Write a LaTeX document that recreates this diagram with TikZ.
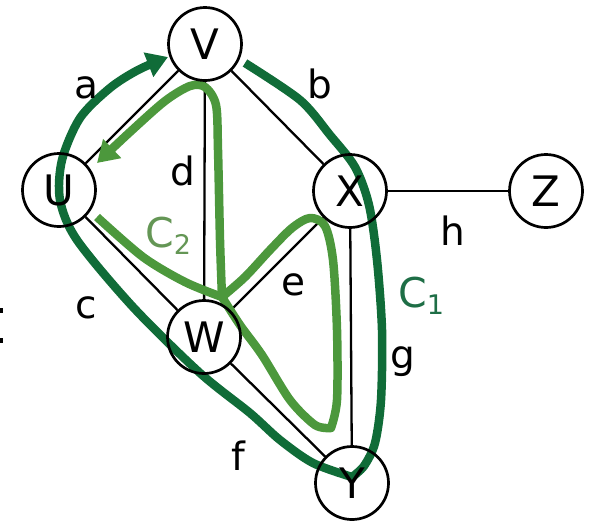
\documentclass[tikz,border=0pt]{standalone}
\usepackage{fontspec}
\setmainfont{DejaVu Sans}
\usetikzlibrary{arrows.meta}
\pgfdeclarelayer{background}
\pgfsetlayers{background,main}
\definecolor{darkg}{RGB}{16,108,56}
\definecolor{lightg}{RGB}{76,152,60}
\definecolor{ctwo}{RGB}{100,150,85}
\definecolor{cone}{RGB}{30,110,70}
\begin{document}
\begin{tikzpicture}[x=1pt,y=-1pt,
 vtx/.style={circle,draw=black,line width=2.7pt,minimum size=73pt,inner sep=0pt,font=\fontsize{42}{42}\selectfont},
 elab/.style={anchor=base,font=\fontsize{39}{39}\selectfont,inner sep=0pt},
 clab/.style={anchor=base west,font=\fontsize{41}{41}\selectfont,inner sep=0pt},
 edge/.style={line width=2.3pt,black},
 cyc1/.style={line width=8.5pt,darkg,line join=round},
 cyc2/.style={line width=8.5pt,lightg,line join=round},
]
\useasboundingbox (0,0) rectangle (593,523);
\node[vtx] (V) at (205,44) {V};
\node[vtx] (U) at (59,190) {U};
\node[vtx] (X) at (350,191) {X};
\node[vtx] (Z) at (546,191) {Z};
\node[vtx] (W) at (204,337) {W};
\node[vtx] (Y) at (352,483) {Y};
\node[elab] (la) at (86,98) {a};
\node[elab] (lb) at (320,98) {b};
\node[elab] (lc) at (86,318) {c};
\node[elab] (ld) at (183,185) {d};
\node[elab] (le) at (293,295) {e};
\node[elab] (lf) at (238,470) {f};
\node[elab] (lg) at (403,368) {g};
\node[elab] (lh) at (453,245) {h};
\node[clab,text=ctwo] (c2) at (145,247) {C\raisebox{-7pt}{\fontsize{27}{27}\selectfont 2}};
\node[clab,text=cone] (c1) at (398,307) {C\raisebox{-7pt}{\fontsize{27}{27}\selectfont 1}};
\fill (0,308) rectangle (2.5,313);
\fill (0,338) rectangle (2.5,343);
\begin{pgfonlayer}{background}
\draw[edge] (U) -- (V);
\draw[edge] (V) -- (X);
\draw[edge] (U) -- (W);
\draw[edge] (V) -- (W);
\draw[edge] (W) -- (X);
\draw[edge] (W) -- (Y);
\draw[edge] (X) -- (Y);
\draw[edge] (X) -- (Z);
% C1
\draw[cyc1,line cap=butt] plot[smooth] coordinates {(245,63) (300,100) (330,135) (355,167) (369,205) (377,260) (382,330) (381,400) (375,443) (364,466) (352,477)};
\draw[cyc1,line cap=round,-{Triangle[length=21pt,width=25pt]}] plot[smooth] coordinates {(352,477) (313,463) (280,440) (250,413) (200,373) (133,307) (77,240) (60,200) (62,160) (80,118) (110,88) (138,70) (168,57)};
% C2
\draw[cyc2,line cap=butt] plot[smooth] coordinates {(97,217) (143,257) (185,282) (222,297)};
\draw[cyc2,line cap=round] plot[smooth] coordinates {(222,297) (245,277) (270,250) (292,228) (310,218) (325,226) (333,260) (337,330) (337,400) (331,428)};
\draw[cyc2,line cap=round] plot[smooth] coordinates {(331,428) (315,425) (290,400) (262,355) (240,325) (222,297)};
\draw[cyc2,line cap=round,-{Triangle[length=21pt,width=25pt]}] plot[smooth] coordinates {(222,297) (220,240) (218,150) (216,105) (205,87) (190,86) (165,101) (130,132) (97,163)};
\end{pgfonlayer}
\end{tikzpicture}
\end{document}
